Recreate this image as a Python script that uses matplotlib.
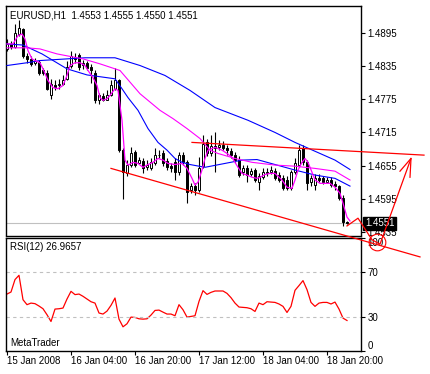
import numpy as np
import matplotlib
matplotlib.use('Agg')
import matplotlib.pyplot as plt
from matplotlib import transforms

plt.rcParams['font.family'] = ['Liberation Sans', 'DejaVu Sans']
plt.rcParams['font.size'] = 7

symbol = 'EURUSD,H1'

# hourly candles
opens = [1.4866, 1.4875, 1.4870, 1.4893, 1.4902, 1.4854, 1.4848, 1.4841, 1.4843, 1.4827,
         1.4823, 1.4782, 1.4801, 1.4800, 1.4803, 1.4812, 1.4836, 1.4852, 1.4855, 1.4837,
         1.4841, 1.4834, 1.4823, 1.4773, 1.4780, 1.4774, 1.4782, 1.4794, 1.4809, 1.4683,
         1.4641, 1.4656, 1.4679, 1.4659, 1.4663, 1.4652, 1.4650, 1.4659, 1.4675, 1.4677,
         1.4663, 1.4654, 1.4661, 1.4643, 1.4674, 1.4661, 1.4611, 1.4618, 1.4611, 1.4654,
         1.4697, 1.4677, 1.4690, 1.4688, 1.4693, 1.4686, 1.4681, 1.4674, 1.4666, 1.4643,
         1.4650, 1.4639, 1.4647, 1.4625, 1.4634, 1.4643, 1.4643, 1.4645, 1.4638, 1.4632,
         1.4629, 1.4614, 1.4643, 1.4656, 1.4686, 1.4661, 1.4625, 1.4620, 1.4632, 1.4632,
         1.4625, 1.4629, 1.4621, 1.4618, 1.4596, 1.4553]
highs = [1.4884, 1.4881, 1.4911, 1.4918, 1.4904, 1.4859, 1.4854, 1.4850, 1.4846, 1.4832,
         1.4827, 1.4812, 1.4809, 1.4812, 1.4818, 1.4845, 1.4863, 1.4859, 1.4859, 1.4846,
         1.4845, 1.4839, 1.4827, 1.4787, 1.4787, 1.4791, 1.4809, 1.4832, 1.4812, 1.4686,
         1.4665, 1.4688, 1.4683, 1.4670, 1.4668, 1.4665, 1.4668, 1.4686, 1.4683, 1.4683,
         1.4668, 1.4659, 1.4668, 1.4679, 1.4679, 1.4665, 1.4623, 1.4623, 1.4670, 1.4710,
         1.4704, 1.4711, 1.4715, 1.4701, 1.4699, 1.4692, 1.4686, 1.4679, 1.4672, 1.4656,
         1.4656, 1.4650, 1.4650, 1.4641, 1.4650, 1.4650, 1.4654, 1.4650, 1.4643, 1.4638,
         1.4636, 1.4647, 1.4668, 1.4692, 1.4693, 1.4665, 1.4638, 1.4639, 1.4639, 1.4636,
         1.4634, 1.4634, 1.4627, 1.4620, 1.4602, 1.4555]
lows = [1.4863, 1.4866, 1.4868, 1.4890, 1.4850, 1.4841, 1.4836, 1.4837, 1.4819, 1.4818,
        1.4791, 1.4776, 1.4791, 1.4794, 1.4801, 1.4809, 1.4832, 1.4841, 1.4827, 1.4830,
        1.4827, 1.4805, 1.4769, 1.4767, 1.4771, 1.4773, 1.4780, 1.4791, 1.4679, 1.4594,
        1.4636, 1.4652, 1.4652, 1.4659, 1.4641, 1.4647, 1.4647, 1.4656, 1.4668, 1.4654,
        1.4647, 1.4643, 1.4629, 1.4638, 1.4656, 1.4587, 1.4605, 1.4602, 1.4607, 1.4650,
        1.4672, 1.4672, 1.4643, 1.4683, 1.4683, 1.4674, 1.4668, 1.4659, 1.4634, 1.4638,
        1.4625, 1.4636, 1.4625, 1.4611, 1.4630, 1.4636, 1.4639, 1.4629, 1.4625, 1.4611,
        1.4611, 1.4611, 1.4639, 1.4652, 1.4657, 1.4611, 1.4618, 1.4611, 1.4625, 1.4621,
        1.4623, 1.4616, 1.4611, 1.4593, 1.4545, 1.4550]
closes = [1.4875, 1.4870, 1.4895, 1.4904, 1.4854, 1.4848, 1.4839, 1.4845, 1.4823, 1.4823,
          1.4794, 1.4803, 1.4798, 1.4803, 1.4809, 1.4834, 1.4854, 1.4848, 1.4834, 1.4841,
          1.4832, 1.4827, 1.4773, 1.4782, 1.4774, 1.4783, 1.4800, 1.4810, 1.4683, 1.4643,
          1.4656, 1.4677, 1.4656, 1.4665, 1.4650, 1.4656, 1.4661, 1.4675, 1.4674, 1.4659,
          1.4652, 1.4650, 1.4643, 1.4674, 1.4661, 1.4607, 1.4618, 1.4611, 1.4650, 1.4695,
          1.4677, 1.4690, 1.4686, 1.4692, 1.4686, 1.4683, 1.4674, 1.4665, 1.4638, 1.4650,
          1.4638, 1.4645, 1.4629, 1.4636, 1.4643, 1.4641, 1.4647, 1.4632, 1.4629, 1.4614,
          1.4614, 1.4643, 1.4659, 1.4683, 1.4661, 1.4623, 1.4632, 1.4632, 1.4629, 1.4625,
          1.4629, 1.4620, 1.4618, 1.4596, 1.4553, 1.4551]

rsi = [50.4, 52.2, 63.2, 67.0, 45.4, 41.0, 42.4, 41.9, 39.8, 37.4,
       32.1, 26.1, 37.1, 37.4, 38.0, 46.0, 52.8, 49.9, 50.4, 48.4,
       46.0, 43.6, 42.4, 33.6, 32.7, 35.3, 40.4, 46.9, 28.2, 21.4,
       24.1, 30.0, 29.7, 28.5, 28.2, 28.5, 31.8, 35.9, 36.2, 34.4,
       32.7, 32.7, 31.2, 41.0, 36.5, 30.0, 30.6, 31.2, 43.9, 53.4,
       50.1, 51.9, 53.1, 53.1, 53.1, 51.0, 47.2, 42.4, 38.9, 38.6,
       38.3, 37.4, 35.0, 42.4, 41.0, 43.6, 43.3, 43.0, 41.6, 39.5,
       34.1, 39.5, 53.7, 57.9, 62.3, 54.3, 43.0, 39.5, 42.4, 43.0,
       43.0, 41.6, 43.3, 37.1, 29.1, 27.0]
rsi_last = 26.9657

time_ticks = [0, 16, 32, 48, 64, 80]
time_labels = ['15 Jan 2008', '16 Jan 04:00', '16 Jan 20:00',
               '17 Jan 12:00', '18 Jan 04:00', '18 Jan 20:00']
price_ticks = [1.4895, 1.4835, 1.4775, 1.4715, 1.4655, 1.4595, 1.4535]

# moving averages as (bar, price)
fast_ma_x = [0, 1.5, 2.75, 3.75, 4.5, 5.25, 6.25, 7, 8.25, 9, 10.25, 11.5, 12.75, 14, 15,
             15.75, 17, 18.25, 19.5, 20.25, 21.5, 22.5, 23.25, 24, 25, 25.75, 27, 27.75,
             28.75, 29.5, 30.25, 31.5, 32.75, 34, 35.25, 36.5, 37.75, 39, 40.25, 42, 43.75,
             45, 46.25, 47, 47.75, 48.75, 49.5, 50.25, 52, 53.75, 55, 56.25, 57, 57.75,
             58.75, 60, 61.25, 62.5, 63.25, 64.5, 65.75, 67, 68.75, 70, 71.25, 72, 72.75,
             73.75, 74.5, 75.25, 76.25, 77, 78.25, 79.5, 80.75, 82, 83.25, 84, 85, 85.75]
fast_ma_y = [1.4875, 1.4875, 1.4890, 1.4893, 1.4884, 1.4863, 1.4848, 1.4845, 1.4841, 1.4830,
             1.4809, 1.4796, 1.4794, 1.4800, 1.4818, 1.4836, 1.4841, 1.4841, 1.4836, 1.4827,
             1.4814, 1.4800, 1.4778, 1.4773, 1.4776, 1.4782, 1.4794, 1.4791, 1.4737, 1.4665,
             1.4656, 1.4661, 1.4659, 1.4652, 1.4657, 1.4661, 1.4668, 1.4665, 1.4659, 1.4657,
             1.4659, 1.4650, 1.4632, 1.4620, 1.4625, 1.4647, 1.4668, 1.4683, 1.4688, 1.4683,
             1.4677, 1.4670, 1.4661, 1.4652, 1.4641, 1.4638, 1.4634, 1.4632, 1.4634, 1.4639,
             1.4641, 1.4641, 1.4629, 1.4616, 1.4614, 1.4629, 1.4647, 1.4661, 1.4668, 1.4661,
             1.4643, 1.4629, 1.4623, 1.4623, 1.4623, 1.4616, 1.4605, 1.4587, 1.4562, 1.4555]
slow_ma_x = [0, 5, 8.25, 12.5, 19, 23.25, 28.25, 33.25, 38.25, 41.5, 45, 48.25, 50.75,
             52.75, 57, 61.25, 67, 72, 77, 82, 85.75]
slow_ma_y = [1.4868, 1.4868, 1.4866, 1.4857, 1.4848, 1.4839, 1.4827, 1.4785, 1.4755, 1.4740,
             1.4722, 1.4704, 1.4683, 1.4677, 1.4668, 1.4661, 1.4656, 1.4654, 1.4650, 1.4645,
             1.4629]
mid_blue_x = [0, 4, 8.75, 15, 20, 25, 27, 28.75, 30.25, 32.75, 35.25, 37.75, 40, 42, 43.75,
              45.75, 49.5, 54.5, 58.75, 62.5, 67, 72, 77, 82, 85.75]
mid_blue_y = [1.4875, 1.4873, 1.4857, 1.4830, 1.4819, 1.4814, 1.4812, 1.4794, 1.4778, 1.4755,
              1.4722, 1.4697, 1.4683, 1.4668, 1.4661, 1.4657, 1.4652, 1.4659, 1.4665, 1.4666,
              1.4657, 1.4647, 1.4638, 1.4632, 1.4618]
slow_blue_x = [0, 5, 8.25, 19.5, 27, 33.25, 39.5, 45.75, 52, 60.25, 67, 72, 77, 82, 85.75]
slow_blue_y = [1.4836, 1.4841, 1.4845, 1.4850, 1.4850, 1.4836, 1.4818, 1.4791, 1.4760,
               1.4737, 1.4715, 1.4697, 1.4681, 1.4665, 1.4648]

# hand drawn trend lines and arrow (bar, price)
lower_line_x = [26, 103.25]
lower_line_y = [1.4650, 1.4490]
upper_line_x = [46.25, 104.25]
upper_line_y = [1.4697, 1.4674]
arrow_x = [85, 87.75, 91.25, 93.25, 101]
arrow_y = [1.4546, 1.4560, 1.4521, 1.4513, 1.4668]
head_x = [98.25, 101, 100.75]
head_y = [1.4645, 1.4668, 1.4634]
circle_x, circle_y = 92.5, 1.4517

W, H = 430, 374
fig = plt.figure(figsize=(W / 100, H / 100), dpi=100)
ax = fig.add_axes([6 / W, 1 - 235.5 / H, 355 / W, 229.5 / H])
ax2 = fig.add_axes([6 / W, 1 - 351 / H, 355 / W, 113 / H])
ax.set_zorder(3)

x = np.arange(len(closes))
o = np.array(opens)
c = np.array(closes)
face = ['white' if cc >= oo else 'black' for oo, cc in zip(o, c)]
ax.vlines(x, lows, highs, color='black', lw=0.8, zorder=2)
ax.bar(x, np.abs(c - o), bottom=np.minimum(o, c), width=0.7, color=face,
       edgecolor='black', linewidth=0.7, zorder=3)
ax.axhline(closes[-1], color='#c0c0c0', lw=0.8, zorder=1)

ax.plot(slow_blue_x, slow_blue_y, color='#0000ff', lw=0.8, zorder=4)
ax.plot(mid_blue_x, mid_blue_y, color='#0000ff', lw=0.8, zorder=4)
ax.plot(slow_ma_x, slow_ma_y, color='#ff00ff', lw=0.8, zorder=4)
ax.plot(fast_ma_x, fast_ma_y, color='#ff00ff', lw=0.9, zorder=4)

red = '#ff0000'
ax.plot(lower_line_x, lower_line_y, color=red, lw=0.9, clip_on=False, zorder=6)
ax.plot(upper_line_x, upper_line_y, color=red, lw=0.9, clip_on=False, zorder=6)
ax.plot(arrow_x, arrow_y, color=red, lw=0.9, clip_on=False, zorder=6)
ax.plot(head_x, head_y, color=red, lw=0.9, clip_on=False, zorder=6)
ax.plot(circle_x, circle_y, 'o', ms=12, mfc='none', mec=red, mew=0.8,
        clip_on=False, zorder=6)

ax.set_xlim(-0.25, 88.5)
ax.set_ylim(1.45287, 1.49436)
ax.set_xticks([])
ax.yaxis.tick_right()
ax.set_yticks(price_ticks)
ax.set_yticklabels([f'{p:.4f}' for p in price_ticks])
ax.tick_params(axis='y', direction='out', length=3, width=0.8, pad=1.5, labelsize=7)
for s in ax.spines.values():
    s.set_linewidth(1)

ax.text(0.011, 0.982, f'{symbol}  {opens[-1]:.4f} {highs[-1]:.4f} {lows[-1]:.4f} {closes[-1]:.4f}',
        transform=ax.transAxes, va='top', ha='left', fontsize=7)
trans = transforms.blended_transform_factory(ax.transAxes, ax.transData)
ax.text(1 + 4 / 355, closes[-1], f'{closes[-1]:.4f}', transform=trans, color='white',
        va='center', ha='left', fontsize=7, zorder=5,
        bbox=dict(facecolor='black', edgecolor='black', pad=1.2))

# RSI panel
ax2.plot(x, rsi, color=red, lw=0.9)
ax2.axhline(70, color='#c0c0c0', lw=0.8, ls=(0, (3, 3)))
ax2.axhline(30, color='#c0c0c0', lw=0.8, ls=(0, (3, 3)))
ax2.set_xlim(-0.25, 88.5)
ax2.set_ylim(0, 100)
ax2.yaxis.tick_right()
ax2.set_yticks([0, 30, 70, 100])
ax2.set_yticklabels(['0', '30', '70', '100'])
ax2.tick_params(axis='y', direction='out', length=3, width=0.8, pad=1.5, labelsize=7)
lbls = ax2.get_yticklabels()
lbls[0].set_va('bottom')
lbls[-1].set_va('top')
ax2.set_xticks(time_ticks)
ax2.set_xticklabels(time_labels)
ax2.tick_params(axis='x', direction='out', length=3, width=0.8, pad=0.5, labelsize=7)
for lbl in ax2.get_xticklabels():
    lbl.set_ha('left')
for s in ax2.spines.values():
    s.set_linewidth(1)
ax2.text(0.011, 0.965, f'RSI(12) {rsi_last:.4f}', transform=ax2.transAxes,
         va='top', ha='left', fontsize=7)
ax2.text(0.011, 0.044, 'MetaTrader', transform=ax2.transAxes,
         va='baseline', ha='left', fontsize=7)

fig.savefig('out.png', dpi=100)
